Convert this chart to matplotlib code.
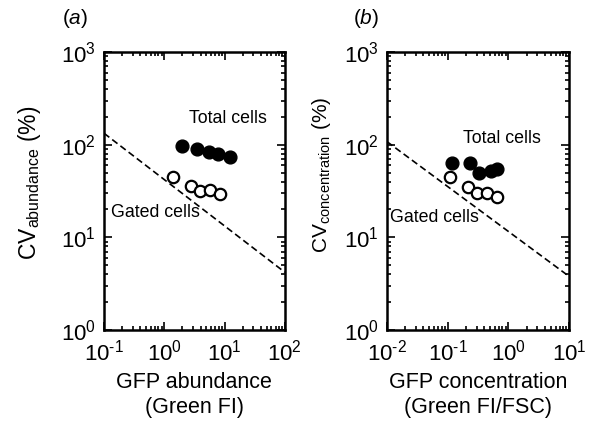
import matplotlib
matplotlib.use("Agg")
import matplotlib.pyplot as plt
import matplotlib.ticker as mticker
import numpy as np

plt.rcParams["font.family"] = ["Liberation Sans", "DejaVu Sans"]
plt.rcParams["mathtext.fontset"] = "custom"
plt.rcParams["mathtext.rm"] = "Liberation Sans"
plt.rcParams["mathtext.it"] = "Liberation Sans:italic"
plt.rcParams["mathtext.default"] = "regular"
plt.rcParams["axes.unicode_minus"] = False

# panel (a): abundance
abund_total_x = [1.96, 3.55, 5.48, 7.9, 12.3]
abund_total_cv = [97, 90, 84, 80, 74]
abund_gated_x = [1.39, 2.76, 3.94, 5.75, 8.4]
abund_gated_cv = [45, 36, 32, 32.4, 29.4]
abund_line_x = [0.1, 100]
abund_line_cv = [133, 4.2]

# panel (b): concentration
conc_total_x = [0.116, 0.233, 0.328, 0.51, 0.64]
conc_total_cv = [64, 63, 49, 52.5, 54.7]
conc_gated_x = [0.109, 0.219, 0.30, 0.449, 0.64]
conc_gated_cv = [44.5, 35, 30, 30.4, 27.5]
conc_line_x = [0.01, 10]
conc_line_cv = [108, 3.8]

fig = plt.figure(figsize=(5.89, 4.21), dpi=100)
ax_a = fig.add_axes([0.1766, 0.2162, 0.307, 0.660])
ax_b = fig.add_axes([0.657, 0.2162, 0.309, 0.660])


def pow10(v, pos):
    e = int(round(np.log10(v)))
    return r"10$^{\text{%d}}$" % e


def style(ax, xlim):
    ax.set_xscale("log")
    ax.set_yscale("log")
    ax.set_xlim(*xlim)
    ax.set_ylim(1, 1000)
    for s in ax.spines.values():
        s.set_linewidth(1.8)
    ax.tick_params(which="both", direction="in", top=True, right=True,
                   labelsize=16, width=1.2)
    ax.tick_params(which="major", length=6)
    ax.tick_params(which="minor", length=3)
    ax.tick_params(axis="x", which="major", pad=7)
    ax.tick_params(axis="y", which="major", pad=6)
    ax.xaxis.set_major_locator(mticker.LogLocator(base=10, numticks=10))
    ax.xaxis.set_minor_locator(mticker.LogLocator(base=10, subs=np.arange(2, 10), numticks=10))
    ax.xaxis.set_major_formatter(mticker.FuncFormatter(pow10))
    ax.yaxis.set_major_formatter(mticker.FuncFormatter(pow10))


def draw(ax, tx, tcv, gx, gcv, lx, lcv):
    ax.plot(lx, lcv, color="black", ls=(0, (4, 2.2)), lw=1.2)
    ax.plot(gx, gcv, "o", ms=8.2, mfc="white", mec="black", mew=1.6, ls="none")
    ax.plot(tx, tcv, "o", ms=9.2, mfc="black", mec="black", ls="none")


draw(ax_a, abund_total_x, abund_total_cv, abund_gated_x, abund_gated_cv,
     abund_line_x, abund_line_cv)
style(ax_a, (0.1, 100))
ax_a.text(11.5, 190, "Total cells", fontsize=12.8, ha="center", va="center")
ax_a.text(0.13, 18.5, "Gated cells", fontsize=12.8, ha="left", va="center")
ax_a.set_xlabel("GFP abundance\n(Green FI)", fontsize=15.5, linespacing=1.25)
ax_a.xaxis.set_label_coords(0.5, -0.15)
ax_a.set_ylabel(r"CV$_{abundance}$ (%)", fontsize=16.5)
ax_a.yaxis.set_label_coords(-0.34, 0.529)
fig.text(0.106, 0.957, r"($\it{a}$)", fontsize=15, ha="left", va="center")

draw(ax_b, conc_total_x, conc_total_cv, conc_gated_x, conc_gated_cv,
     conc_line_x, conc_line_cv)
style(ax_b, (0.01, 10))
ax_b.text(0.8, 118, "Total cells", fontsize=12.8, ha="center", va="center")
ax_b.text(0.0113, 16.5, "Gated cells", fontsize=12.8, ha="left", va="center")
ax_b.set_xlabel("GFP concentration\n(Green FI/FSC)", fontsize=15.5, linespacing=1.25)
ax_b.xaxis.set_label_coords(0.5, -0.15)
ax_b.set_ylabel(r"CV$_{concentration}$ (%)", fontsize=15)
ax_b.yaxis.set_label_coords(-0.295, 0.559)
fig.text(0.600, 0.957, r"($\it{b}$)", fontsize=15, ha="left", va="center")

fig.savefig("out.png", dpi=100)
